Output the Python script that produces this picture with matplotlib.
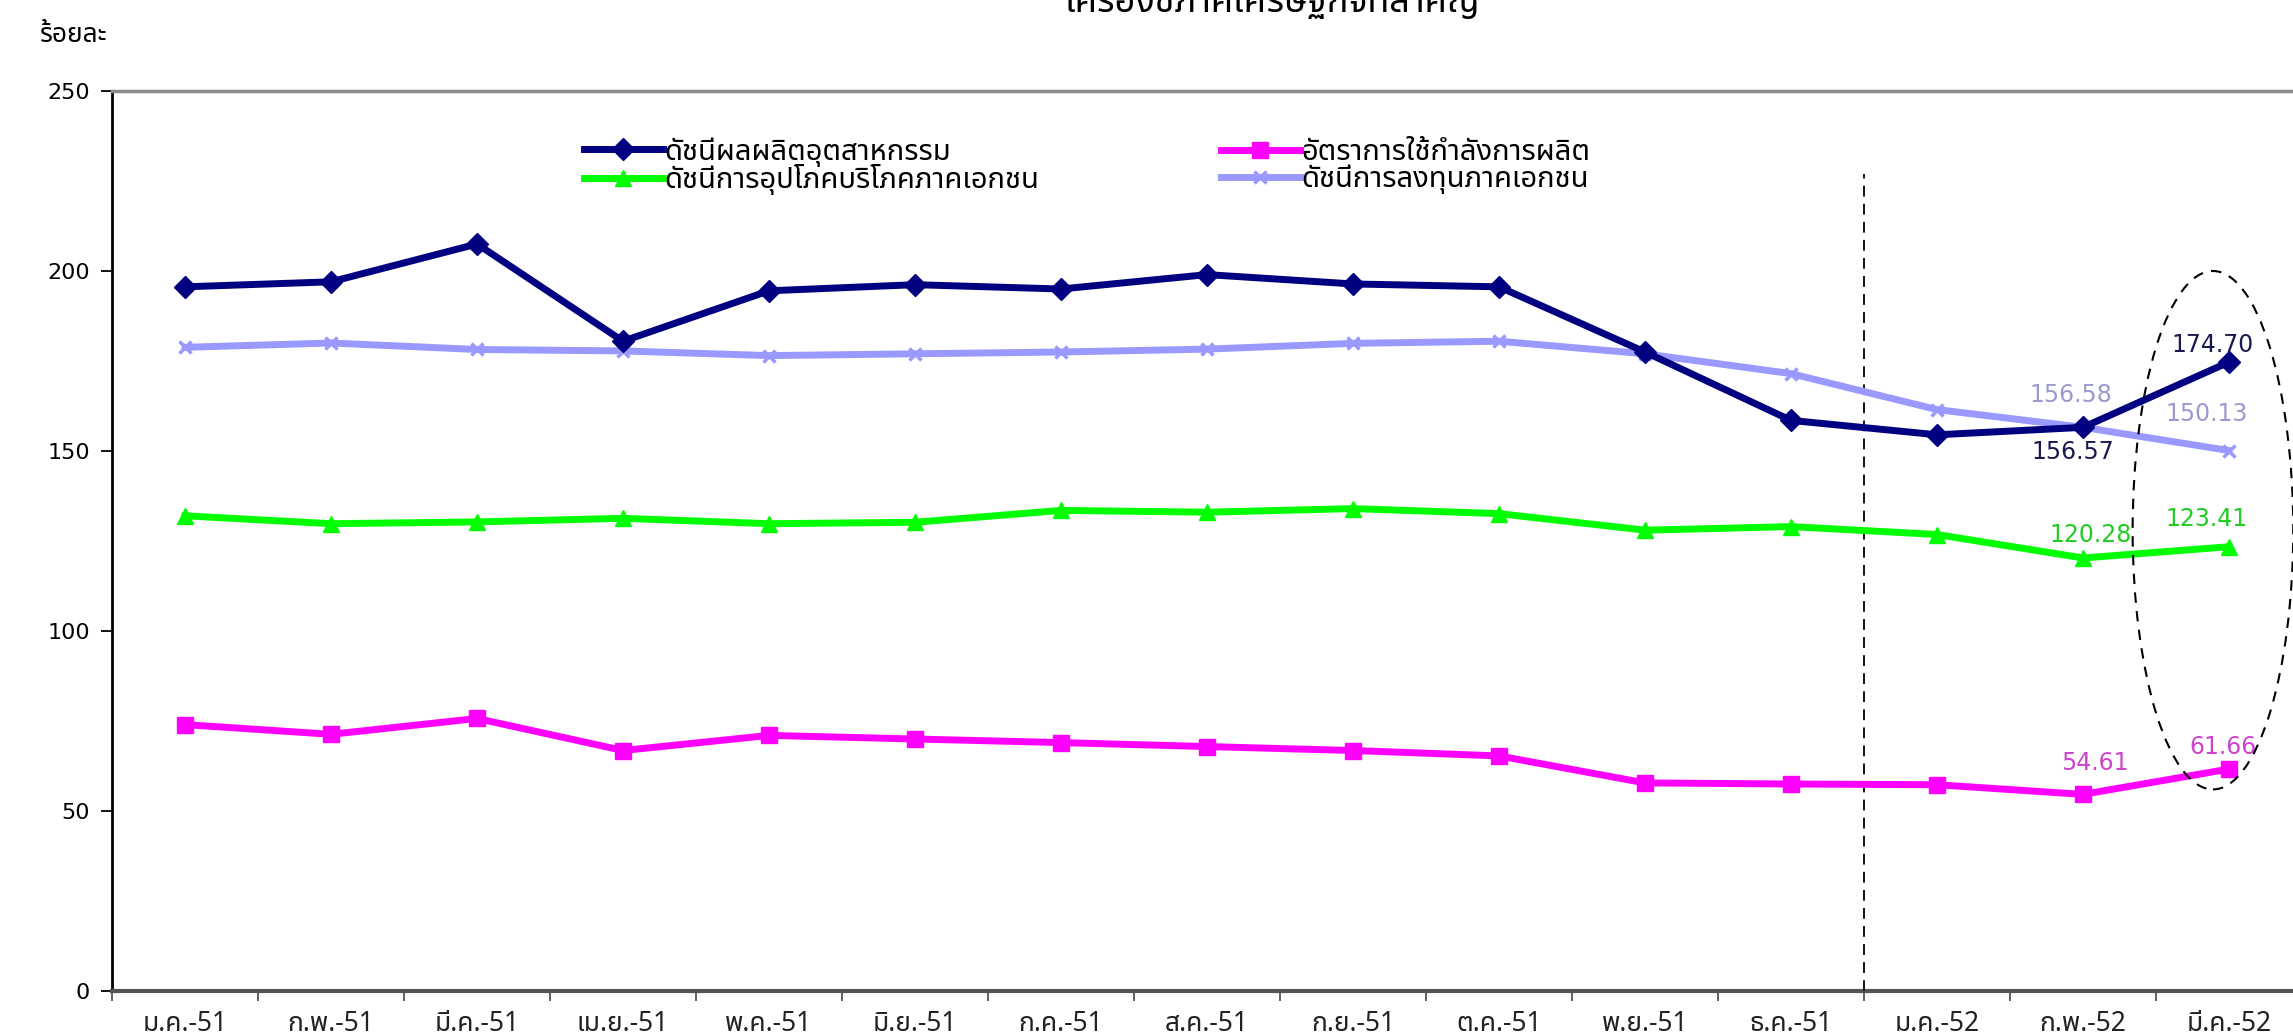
import matplotlib
matplotlib.use('Agg')
import matplotlib.pyplot as plt
from matplotlib.patches import Ellipse
import numpy as np

FONT = ['DejaVu Sans', 'Noto Sans Thai', 'Sarabun']
THAI = ['Noto Sans Thai', 'Sarabun', 'DejaVu Sans']
plt.rcParams['font.family'] = FONT

months = ['ม.ค.-51', 'ก.พ.-51', 'มี.ค.-51', 'เม.ย.-51', 'พ.ค.-51', 'มิ.ย.-51',
          'ก.ค.-51', 'ส.ค.-51', 'ก.ย.-51', 'ต.ค.-51', 'พ.ย.-51', 'ธ.ค.-51',
          'ม.ค.-52', 'ก.พ.-52', 'มี.ค.-52']

# index values (percent)
ipi = [195.6, 197.0, 207.5, 180.5, 194.5, 196.2, 195.0, 199.0, 196.4, 195.6,
       177.5, 158.5, 154.5, 156.57, 174.70]
cap_util = [74.0, 71.3, 75.7, 66.8, 71.0, 70.0, 69.0, 67.9, 66.8, 65.3,
            57.8, 57.5, 57.3, 54.61, 61.66]
consumption = [132.0, 129.8, 130.3, 131.3, 129.8, 130.2, 133.5, 133.0, 134.0, 132.6,
               128.0, 129.0, 126.8, 120.28, 123.41]
investment = [178.8, 180.0, 178.2, 177.8, 176.5, 177.0, 177.5, 178.3, 179.9, 180.5,
              177.0, 171.5, 161.5, 156.58, 150.13]

names = ['ดัชนีผลผลิตอุตสาหกรรม', 'อัตราการใช้กำลังการผลิต',
         'ดัชนีการอุปโภคบริโภคภาคเอกชน', 'ดัชนีการลงทุนภาคเอกชน']

x = np.arange(len(months))

fig = plt.figure(figsize=(22.93, 10.35), dpi=100)
ax = fig.add_axes([112 / 2293, 44 / 1035, 2190 / 2293, 900 / 1035])

l1, = ax.plot(x, ipi, color='#000080', lw=5, marker='D', ms=11, zorder=5)
l2, = ax.plot(x, cap_util, color='#FF00FF', lw=5, marker='s', ms=11, zorder=5)
l3, = ax.plot(x, consumption, color='#00FF00', lw=5, marker='^', ms=12, zorder=5)
l4, = ax.plot(x, investment, color='#9999FF', lw=5, marker='x', ms=9, mew=2.5, zorder=4)

# value labels on the last two months
lab = [(ipi, '#1a1a50', [(-10, -25), (-16, 17)]),
       (investment, '#9a9ad0', [(-12, 32), (-22, 37)]),
       (consumption, '#22cc22', [(8, 23), (-22, 28)]),
       (cap_util, '#cc44cc', [(12, 31), (-6, 22)])]
for ser, col, offs in lab:
    for k, (dx, dy) in zip([13, 14], offs):
        ax.annotate('%.2f' % ser[k], xy=(k, ser[k]), xytext=(dx, dy),
                    textcoords='offset pixels', ha='center', va='center',
                    fontsize=17, color=col, zorder=6)

ax.plot([11.5, 11.5], [0, 227], color='black', lw=1.3, ls=(0, (6, 4)), zorder=3)
ax.add_patch(Ellipse((13.89, 128), 1.1, 144, fill=False, ec='black', lw=1.5,
                     ls=(0, (5, 4)), zorder=6))

ax.set_xlim(-0.5, 14.5)
ax.set_ylim(0, 250)
ax.set_yticks(np.arange(0, 251, 50))
ax.set_xticks(x)
ax.set_xticklabels(months, family=THAI)
ax.set_xticks(np.arange(-0.5, 15, 1), minor=True)
ax.tick_params(axis='x', which='major', length=0, pad=14, labelsize=19, colors='#222222')
ax.tick_params(axis='x', which='minor', length=7, width=1.3, color='#555555')
ax.tick_params(axis='y', length=8, width=1.3, pad=8, labelsize=16, colors='black')

ax.spines['left'].set_linewidth(2)
ax.spines['left'].set_color('black')
ax.spines['bottom'].set_linewidth(3)
ax.spines['bottom'].set_color('#555555')
ax.spines['top'].set_linewidth(2.5)
ax.spines['top'].set_color('#8a8a8a')
ax.spines['right'].set_visible(False)

legkw = dict(loc='center left', bbox_transform=fig.transFigure, frameon=False,
             handlelength=2.7, handletextpad=0.05, borderpad=0, borderaxespad=0,
             labelspacing=-0.1, prop={'family': THAI, 'size': 21})
leg1 = ax.legend([l1, l3], [names[0], names[2]],
                 bbox_to_anchor=(584 / 2293, 1 - 166 / 1035), **legkw)
ax.add_artist(leg1)
ax.legend([l2, l4], [names[1], names[3]],
          bbox_to_anchor=(1221 / 2293, 1 - 166 / 1035), **legkw)

fig.text(40 / 2293, 1 - 35 / 1035, 'ร้อยละ', fontsize=19, family=THAI, va='center')
fig.text(1272 / 2293, 1 - 12 / 1035, 'เครื่องชี้ภาคเศรษฐกิจที่สำคัญ', fontsize=26,
         fontweight='bold', family=THAI, ha='center', va='baseline')

fig.savefig('out.png', dpi=100)
